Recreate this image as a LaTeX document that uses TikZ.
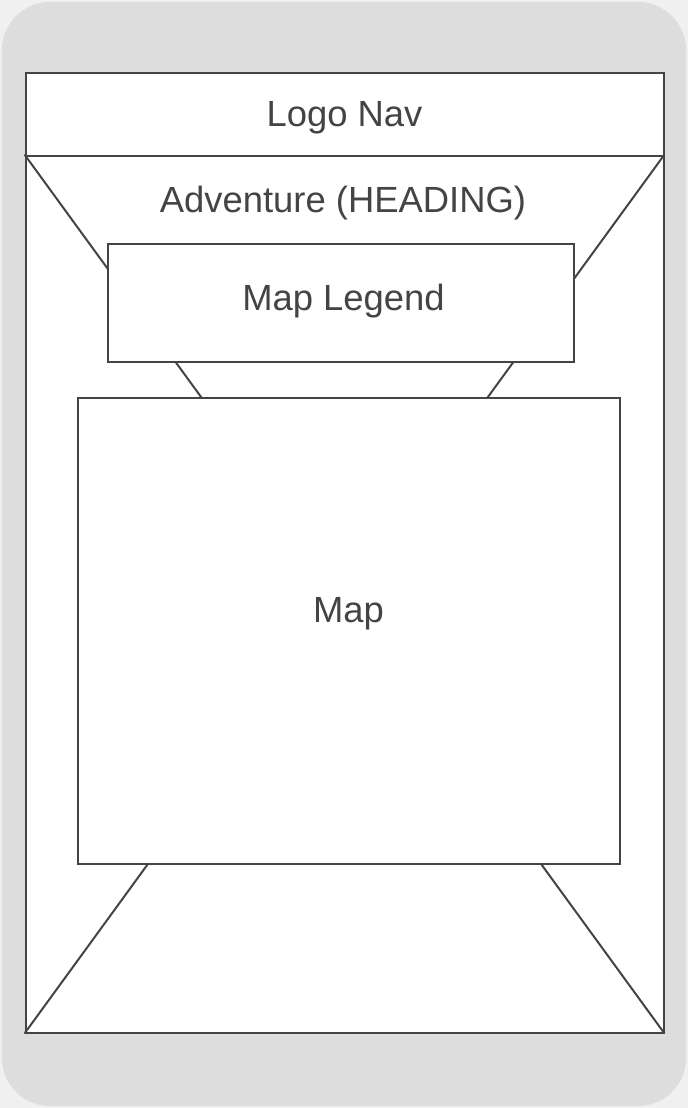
\documentclass[tikz,border=0pt]{standalone}
\usepackage{fontspec}
\setmainfont{Liberation Sans}
\usepackage{xcolor}
\usetikzlibrary{positioning}
\definecolor{phonegray}{HTML}{DDDDDD}
\definecolor{edgegray}{HTML}{F0F0F0}
\definecolor{inkgray}{HTML}{444444}

\begin{document}
\begin{tikzpicture}[
    x=1pt, y=-1pt,
    box/.style={rectangle, draw=inkgray, line width=2pt, fill=white, anchor=north west, inner sep=0pt},
    lbl/.style={text=inkgray, font=\fontsize{36.4}{43}\selectfont, yshift=-3pt},
    cross/.style={draw=inkgray, line width=2pt}
]
    \useasboundingbox[fill=edgegray] (0,0) rectangle (688,1108);
    \fill[phonegray, rounded corners=48pt] (2,2) rectangle (686,1106);

    \node[box, minimum width=638, minimum height=959] (screen) at (24.5,72.5) {};
    \draw[cross] (screen.north west) ++(0,82) coordinate (xtl) -- (screen.south east);
    \draw[cross] (screen.north east) ++(0,82) coordinate (xtr) -- (screen.south west);

    \node[box, minimum width=638, minimum height=82] (nav) at (24.5,72.5) {};
    \node[lbl] at (nav.center) {Logo Nav};
    \node[lbl] (heading) at (343,200) {Adventure (HEADING)};

    \node[box, minimum width=466, minimum height=118] (legend) at (106.5,242.5) {};
    \node[lbl] at ([xshift=3pt, yshift=4pt]legend.center) {Map Legend};

    \node[box, minimum width=542, minimum height=466] (map) at (76.5,396.5) {};
    \node[lbl] at ([yshift=20pt]map.center) {Map};
\end{tikzpicture}
\end{document}
